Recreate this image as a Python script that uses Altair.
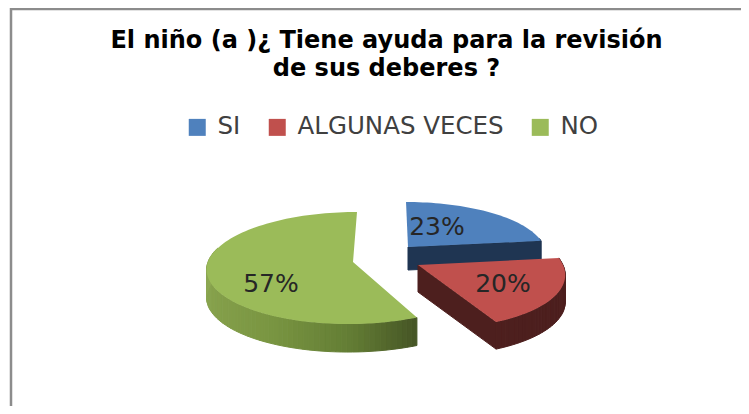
import math
import altair as alt

# ---- values ----
CATEGORIES = ["SI", "ALGUNAS VECES", "NO"]
PERCENTS = [23, 20, 57]
TOP_COLORS = ["#4f81bd", "#c0504d", "#9bbb59"]
TITLE_LINES = ["El niño (a )¿ Tiene ayuda para  la revisión", "de sus deberes ?"]

W, H = 733, 398
OFF = 8  # page margin


def px(x, y):
    return [x - OFF, y - OFF]


# per-slice drawing set-up: apex, radii, perspective, shear, depth
SLICES = {
    "SI": dict(cx=408, cy=247, rx=136, ry=49.5, p=0.10, shear=0.044, depth=23, wall="#1f3552"),
    "ALGUNAS VECES": dict(cx=418, cy=265, rx=145, ry=57, p=0.107, shear=0.17, depth=27, wall="#4d1f1e"),
    "NO": dict(cx=353, cy=262, rx=145, ry=55.4, p=0.107, shear=-0.08, depth=28, wall="#5a7030"),
}
LABEL_POS = {"SI": (437, 227), "ALGUNAS VECES": (503, 284), "NO": (271, 284)}

# wall shading of the big slice: (angle, colour)
GREEN_SHADE = [(150, (0x3f, 0x4c, 0x22)), (180, (0x64, 0x7e, 0x35)),
               (210, (0x7a, 0x96, 0x42)), (270, (0x8e, 0xa8, 0x53)), (290, (0x8e, 0xa8, 0x53))]


def shade(a):
    for (a0, c0), (a1, c1) in zip(GREEN_SHADE, GREEN_SHADE[1:]):
        if a0 <= a <= a1:
            t = (a - a0) / (a1 - a0)
            return "#%02x%02x%02x" % tuple(round(c0[i] + (c1[i] - c0[i]) * t) for i in range(3))
    return "#8ea853"


def project(s, deg, drop=0):
    th = math.radians(deg)
    u, v = math.sin(th), math.cos(th)
    d = 1 + s["p"] * v
    sx, sy = s["rx"] * u / d, -s["ry"] * v / d
    return px(s["cx"] + sx + s["shear"] * sy, s["cy"] + sy + drop)


def feat(coords, **props):
    return {"type": "Feature", "properties": props,
            "geometry": {"type": "Polygon", "coordinates": [coords]}}


def frange(a, b, step=2.0):
    n = max(1, int(math.ceil((b - a) / step)))
    return [a + (b - a) * i / n for i in range(n + 1)]


# slice angles come from the percentages
angles = {}
acc = 0.0
for c, pct in zip(CATEGORIES, PERCENTS):
    angles[c] = (acc, acc + pct * 3.6)
    acc += pct * 3.6

PROJ = alt.Projection(type="identity", scale=1, translate=[0, 0])
legend = alt.Legend(
    orient="none", legendX=177, legendY=107, direction="horizontal", title=None,
    symbolType="square", symbolSize=289, symbolStrokeWidth=0, labelFont="DejaVu Sans",
    labelFontSize=24.5, labelColor="#404040", columnPadding=24, labelOffset=8, labelLimit=400,
    symbolOffset=0, padding=0, columns=3,
)
color = alt.Color("properties.cat:N",
                  scale=alt.Scale(domain=CATEGORIES, range=TOP_COLORS), legend=legend)

layers = []

# frame of the original picture
frame = {"type": "Feature", "properties": {},
         "geometry": {"type": "LineString", "coordinates": [px(11, 420), px(11, 9), px(760, 9)]}}
layers.append(alt.Chart(alt.Data(values=[frame])).mark_geoshape(
    filled=False, stroke="#8c8c8c", strokeWidth=2.5).project(**PROJ.to_dict()))

for cat in ["NO", "SI", "ALGUNAS VECES"]:
    s = SLICES[cat]
    a0, a1 = angles[cat]
    walls = []
    # outer rim, only the part that faces the viewer
    lo, hi = max(a0, 80), min(a1, 285)
    if hi > lo:
        pts = frange(lo, hi)
        for p0, p1 in zip(pts, pts[1:]):
            fill = shade((p0 + p1) / 2) if cat == "NO" else s["wall"]
            walls.append(feat([project(s, p0), project(s, p1),
                               project(s, p1, s["depth"]), project(s, p0, s["depth"]),
                               project(s, p0)], fill=fill))
    # the cut face at the end of the slice, if it looks at the viewer
    if math.cos(math.radians(a1 + 90)) < -0.3:
        apex, apex2 = px(s["cx"], s["cy"]), px(s["cx"], s["cy"] + s["depth"])
        walls.append(feat([apex, project(s, a1), project(s, a1, s["depth"]), apex2, apex],
                          fill=s["wall"]))
    if walls:
        layers.append(alt.Chart(alt.Data(values=walls)).mark_geoshape(strokeWidth=1).encode(
            fill=alt.Fill("properties.fill:N", scale=None),
            stroke=alt.Stroke("properties.fill:N", scale=None),
        ).project(**PROJ.to_dict()))
    top = [px(s["cx"], s["cy"])] + [project(s, a) for a in frange(a0, a1)] + [px(s["cx"], s["cy"])]
    layers.append(alt.Chart(alt.Data(values=[feat(top, cat=cat)])).mark_geoshape(strokeWidth=0).encode(
        color=color,
    ).project(**PROJ.to_dict()))

label_rows = []
for c, pct in zip(CATEGORIES, PERCENTS):
    x, y = px(*LABEL_POS[c])
    label_rows.append({"lon": x, "lat": y, "label": f"{pct}%"})
labels = alt.Chart(alt.Data(values=label_rows)).mark_text(
    font="DejaVu Sans", fontSize=25, color="#262626", align="center", baseline="middle",
).encode(longitude="lon:Q", latitude="lat:Q", text="label:N").project(**PROJ.to_dict())
layers.append(labels)

chart = alt.layer(*layers).properties(
    width=W, height=H, padding=0, autosize=alt.AutoSizeParams(type="none"),
    title=alt.TitleParams(
        text=TITLE_LINES, font="DejaVu Sans", fontWeight="bold", fontSize=24,
        lineHeight=28, color="black", anchor="middle", dx=12, dy=73, offset=0,
    ),
).configure_view(stroke=None).configure(background="white")

chart.save("out.html", embed_options={"renderer": "svg", "actions": False})
